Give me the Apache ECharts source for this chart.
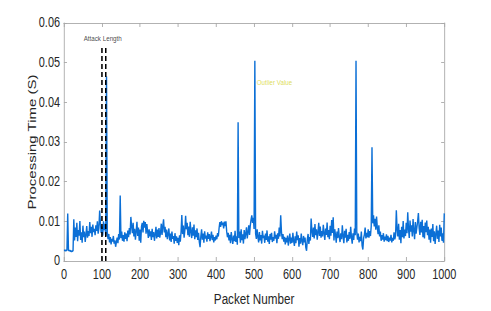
<!DOCTYPE html>
<html>
<head>
<meta charset="utf-8">
<script src="https://cdn.jsdelivr.net/npm/echarts@6/dist/echarts.min.js"></script>
<style>
html,body{margin:0;padding:0;background:#fff;overflow:hidden;width:491px;height:311px;}
#wrap{width:630px;height:311px;transform:scaleX(0.7794);transform-origin:0 0;}
#chart{width:630px;height:311px;}
</style>
</head>
<body>
<div id="wrap"><div id="chart"></div></div>
<script>
// Processing time in milliseconds, one sample every 2 packets (packet 0..1000)
const packetStep = 2;
const processingTimeMs = [
  2.7,2.7,2.6,2.7,2.7,12.0,2.7,2.6,2.6,2.5,2.4,2.5,2.6,10.5,5.2,8.4,6.1,9.6,5.0,7.8,6.4,10.1,5.3,7.2,4.6,
  8.9,6.0,7.4,4.8,6.6,8.8,5.9,7.5,6.3,9.8,7.0,8.6,6.1,9.2,7.3,8.1,6.5,9.0,7.6,10.0,6.9,8.3,12.7,9.5,7.1,
  8.7,6.4,10.0,7.8,9.4,6.3,46.5,7.0,5.5,6.8,4.7,6.0,4.2,5.6,4.9,6.3,4.4,5.2,3.6,4.8,5.9,4.5,6.8,5.4,16.5,
  5.8,7.4,5.1,6.5,4.9,7.2,5.6,6.9,5.0,7.7,6.0,8.3,6.7,11.1,8.8,7.0,9.6,6.2,8.1,5.4,7.5,9.9,6.3,8.4,5.1,
  7.9,4.6,8.7,9.6,7.2,10.1,8.4,9.8,6.9,9.3,7.6,5.8,8.0,6.2,7.5,5.3,8.1,6.0,7.3,5.1,6.7,8.6,5.7,7.9,6.1,
  8.3,5.9,7.1,9.4,6.6,8.8,10.5,7.2,8.6,6.0,7.9,5.5,6.8,8.2,5.2,6.9,4.8,7.4,5.6,6.3,4.4,7.0,5.1,6.2,4.6,
  5.8,4.0,6.5,4.9,7.3,11.6,6.8,8.9,5.9,7.8,11.4,8.0,9.6,6.5,8.7,6.1,9.9,7.4,5.8,8.5,6.4,9.2,5.5,7.7,6.0,
  8.2,5.3,7.1,4.8,3.5,6.2,8.0,5.4,6.9,4.6,7.5,5.7,6.4,4.9,7.2,5.6,6.8,5.0,6.1,7.4,5.3,6.6,4.7,6.0,5.2,
  6.4,5.5,7.0,6.2,8.3,9.8,8.6,10.0,9.1,9.7,8.2,9.9,8.8,10.0,7.4,6.0,7.1,5.2,6.6,4.5,7.3,5.6,4.3,6.4,5.0,
  7.6,4.8,6.2,4.1,35.0,5.8,7.4,4.6,8.0,5.3,6.7,4.4,7.8,5.5,6.9,8.5,5.7,7.2,9.0,6.6,8.9,10.4,11.5,9.6,10.9,
  8.1,50.5,6.9,5.6,8.0,6.1,4.7,7.3,5.2,6.5,4.4,7.6,5.8,6.4,4.6,6.9,5.3,7.7,4.9,6.2,4.3,6.8,5.4,7.1,4.8,
  6.0,5.1,7.5,5.7,6.6,4.5,7.0,5.6,8.4,6.2,11.5,7.3,5.5,6.8,4.9,6.1,4.2,5.8,4.7,6.4,3.9,5.5,6.9,4.4,5.9,
  4.6,7.1,5.0,3.8,6.2,4.5,7.4,5.3,6.5,3.6,5.8,4.4,6.9,5.1,4.0,6.3,4.7,5.9,3.4,2.6,5.5,6.8,4.3,6.0,5.2,
  10.7,7.6,6.1,8.4,5.7,9.3,6.5,8.0,5.4,7.2,9.6,6.3,8.7,5.9,7.5,6.2,9.1,7.0,5.3,8.2,6.6,9.7,6.0,7.8,5.5,
  8.9,6.4,10.3,7.1,11.0,5.2,8.0,6.7,4.6,7.4,5.8,8.3,6.1,4.8,7.0,5.5,9.0,6.3,4.5,7.6,5.9,8.1,4.7,6.6,5.1,
  7.3,5.6,8.6,6.0,4.4,7.0,5.3,8.2,6.5,50.5,7.2,5.4,6.9,4.7,6.1,5.0,7.4,3.9,2.9,5.8,6.6,8.4,5.7,7.1,6.0,
  8.0,5.9,7.5,6.3,8.8,28.7,9.5,11.5,8.7,10.6,7.9,11.2,8.4,6.8,9.0,6.2,7.4,5.1,6.5,5.4,7.0,4.9,6.1,5.3,6.7,
  5.0,6.3,4.8,5.9,5.2,6.6,4.7,5.8,5.1,7.2,5.5,6.4,12.8,8.0,6.2,9.4,5.4,7.8,4.5,8.6,6.0,10.1,5.7,7.9,6.3,
  9.6,7.0,12.3,8.1,5.8,10.2,7.4,9.0,6.2,10.6,7.7,5.5,9.8,6.9,8.5,10.0,12.1,8.3,6.6,9.9,7.2,10.4,6.0,8.8,5.7,
  9.7,7.3,10.2,6.5,8.6,5.4,7.9,4.6,8.2,6.1,9.3,5.0,7.5,4.3,6.8,8.9,5.6,7.7,4.8,9.1,6.2,8.4,5.1,7.0,4.6,
  12.0
];
const yTickLabels = ['0','0.01','0.02','0.03','0.04','0.05','0.06'];
const xTickLabels = ['0','100','200','300','400','500','600','700','800','900','1000'];
const attackStart = 100, attackEnd = 110, attackTop = 54;
const attackLabel = 'Attack Length';
const attackLabelPos = [102, 55.9];
const outlierLabel = 'Outlier Value';
const outlierLabelPos = [507, 44.9];

const font = 'Liberation Sans, Arial, Helvetica, sans-serif';
const axisGray = '#a8a8a8';
const textCol = '#262626';

const chart = echarts.init(document.getElementById('chart'), null, {renderer: 'svg'});
const lineData = processingTimeMs.map((v, i) => [i * packetStep, v]);

const baseX = {
  type: 'value', min: 0, max: 1000, interval: 100,
  axisLine: {show: true, onZero: false, lineStyle: {color: axisGray, width: 1}},
  axisTick: {show: true, inside: true, length: 4, lineStyle: {color: axisGray}},
  splitLine: {show: false}
};
const baseY = {
  type: 'value', min: 0, max: 60, interval: 10,
  axisLine: {show: true, onZero: false, lineStyle: {color: axisGray, width: 1}},
  axisTick: {show: true, inside: true, length: 4, lineStyle: {color: axisGray}},
  splitLine: {show: false}
};

chart.setOption({
  animation: false,
  backgroundColor: '#fff',
  grid: {left: 82, right: 60, top: 23, bottom: 40, containLabel: false},
  xAxis: [
    Object.assign({}, baseX, {
      position: 'bottom',
      name: 'Packet Number', nameLocation: 'middle', nameGap: 30, nameMoveOverlap: false,
      nameTextStyle: {fontFamily: font, fontSize: 15, color: textCol},
      axisLabel: {fontFamily: font, fontSize: 14, color: textCol, margin: 7,
        formatter: (v) => xTickLabels[Math.round(v / 100)]}
    }),
    Object.assign({}, baseX, {position: 'top', axisLabel: {show: false}})
  ],
  yAxis: [
    Object.assign({}, baseY, {
      position: 'left',
      name: 'Processing Time (S)', nameLocation: 'middle', nameGap: 33, nameMoveOverlap: false,
      nameTextStyle: {fontFamily: font, fontSize: 15, color: textCol},
      axisLabel: {fontFamily: font, fontSize: 14, color: textCol, margin: 5,
        formatter: (v) => yTickLabels[Math.round(v / 10)]}
    }),
    Object.assign({}, baseY, {position: 'right', axisLabel: {show: false}})
  ],
  series: [
    {
      type: 'line', data: lineData, xAxisIndex: 0, yAxisIndex: 0,
      showSymbol: false, symbol: 'none',
      lineStyle: {color: '#0b6fd6', width: 1.8}, z: 3
    },
    {
      type: 'line', data: [[attackStart, 0], [attackStart, attackTop]],
      showSymbol: false, symbol: 'none',
      lineStyle: {color: '#000', width: 2, type: [5, 3]}, z: 4
    },
    {
      type: 'line', data: [[attackEnd, 0], [attackEnd, attackTop]],
      showSymbol: false, symbol: 'none',
      lineStyle: {color: '#000', width: 2, type: [5, 3]}, z: 4
    },
    {
      type: 'scatter', symbolSize: 0, data: [attackLabelPos], z: 5,
      label: {show: true, position: 'inside', formatter: attackLabel,
        fontFamily: font, fontSize: 8, color: '#111', align: 'center', verticalAlign: 'middle'}
    },
    {
      type: 'scatter', symbolSize: 0, data: [outlierLabelPos], z: 5,
      label: {show: true, position: 'inside', formatter: outlierLabel,
        fontFamily: font, fontSize: 8, color: '#d4d42a', align: 'left', verticalAlign: 'middle'}
    }
  ]
});
</script>
</body>
</html>
